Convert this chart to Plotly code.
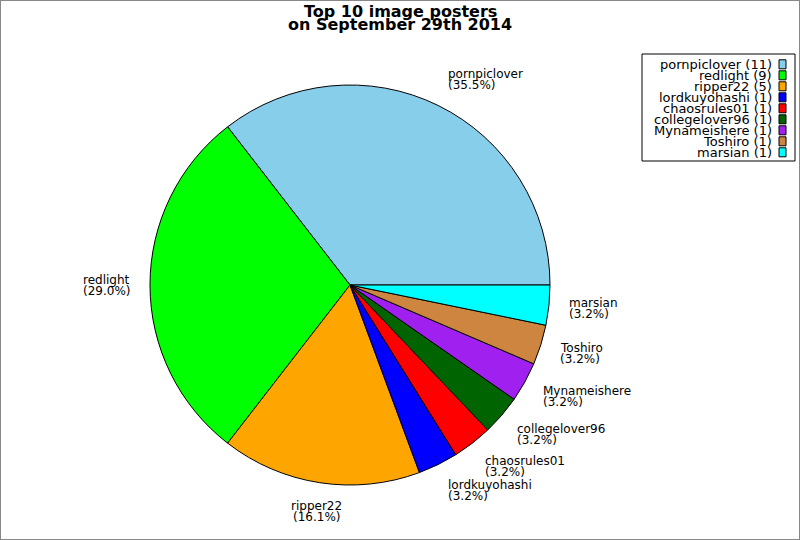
import math
import plotly.graph_objects as go

# data
posters = ['pornpiclover', 'redlight', 'ripper22', 'lordkuyohashi', 'chaosrules01',
           'collegelover96', 'Mynameishere', 'Toshiro', 'marsian']
counts = [11, 9, 5, 1, 1, 1, 1, 1, 1]
colors = ['#87ceeb', '#00ff00', '#ffa500', '#0000ff', '#ff0000',
          '#006400', '#a020f0', '#cd853f', '#00ffff']
title_lines = ['Top 10 image posters', 'on September 29th 2014']

W, H = 800, 540
cx, cy, r = 350, 285, 200   # pie centre / radius in px
FONT = 'DejaVu Sans'
total = sum(counts)


def px(x):
    return x / W


def py(y):
    return 1 - y / H


# plotly keeps the first slice clockwise of `rotation` even when counterclockwise,
# so shift it back so the first slice starts at 3 o'clock
rot = 90 - 360.0 * counts[0] / total

fig = go.Figure(go.Pie(
    labels=posters, values=counts, sort=False,
    direction='counterclockwise', rotation=rot,
    marker=dict(colors=colors, line=dict(color='black', width=1)),
    textinfo='none', showlegend=False,
    domain=dict(x=[px(cx - r), px(cx + r)], y=[py(cy + r), py(cy - r)]),
))

annotations = []
shapes = []

# title, two tight lines
for i, line in enumerate(title_lines):
    annotations.append(dict(x=0.5, y=py(11 + 14 * i), xref='paper', yref='paper',
                            text='<b>%s</b>' % line, showarrow=False,
                            xanchor='center', yanchor='middle',
                            font=dict(family=FONT, size=16, color='black')))

# slice labels outside the pie
start = 0
lh = 11
for name, n in zip(posters, counts):
    a = 2 * math.pi * (start + n / 2) / total
    start += n
    c, s = math.cos(a), math.sin(a)
    lx = cx + 1.09 * r * c
    ly = cy - 1.09 * r * s
    if c > 0.2:
        xa = 'left'
    elif c < -0.2:
        xa = 'right'
    else:
        xa = 'center'
    yc = ly - lh * s
    for j, txt in enumerate([name, '(%.1f%%)' % (100.0 * n / total)]):
        annotations.append(dict(x=px(lx), y=py(yc + (j - 0.5) * lh),
                                xref='paper', yref='paper', text=txt,
                                showarrow=False, xanchor=xa, yanchor='middle',
                                font=dict(family=FONT, size=12, color='black')))

# hand made legend, swatches on the right
shapes.append(dict(type='rect', xref='paper', yref='paper',
                   x0=px(642), x1=px(795), y0=py(54), y1=py(161),
                   line=dict(color='black', width=1), fillcolor='white'))
for i, (name, n) in enumerate(zip(posters, counts)):
    yy = 64.3 + 11 * i
    annotations.append(dict(x=px(774), y=py(yy), xref='paper', yref='paper',
                            text='%s (%d)' % (name, n), showarrow=False,
                            xanchor='right', yanchor='middle',
                            font=dict(family=FONT, size=13, color='black')))
    shapes.append(dict(type='rect', xref='paper', yref='paper',
                       x0=px(779), x1=px(786), y0=py(yy - 4.5), y1=py(yy + 4.5),
                       line=dict(color='black', width=1), fillcolor=colors[i]))

# outer frame
shapes.append(dict(type='rect', xref='paper', yref='paper', x0=0, x1=1, y0=0, y1=1,
                   line=dict(color='#888888', width=2)))

fig.update_layout(
    width=W, height=H,
    margin=dict(l=0, r=0, t=0, b=0),
    paper_bgcolor='white', plot_bgcolor='white',
    annotations=annotations, shapes=shapes,
    showlegend=False,
)

fig.write_html('out.html', config={'displayModeBar': False},
               post_script="document.body.style.margin='0';")
